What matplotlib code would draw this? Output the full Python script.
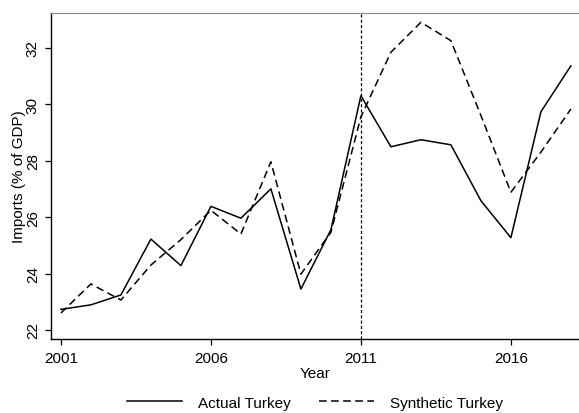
import matplotlib
matplotlib.use("Agg")
import matplotlib.pyplot as plt

plt.rcParams['font.family'] = ['Liberation Sans', 'DejaVu Sans']
plt.rcParams['lines.scale_dashes'] = False

years = list(range(2001, 2019))
actual = [22.73, 22.89, 23.24, 25.22, 24.28, 26.38, 25.96, 27.0, 23.45,
          25.55, 30.30, 28.49, 28.74, 28.56, 26.58, 25.27, 29.73, 31.36]
synthetic = [22.6, 23.63, 23.06, 24.3, 25.2, 26.24, 25.40, 27.96, 23.98,
             25.46, 29.55, 31.84, 32.9, 32.25, 29.6, 26.88, 28.3, 29.83]
treat_year = 2011
xticks = [2001, 2006, 2011, 2016]
yticks = [22, 24, 26, 28, 30, 32]

fig = plt.figure(figsize=(5.79, 4.14), dpi=100)
ax = fig.add_axes([51 / 579, 1 - 340 / 414, 528 / 579, 326 / 414])

ax.plot(years, actual, color='black', linewidth=1.1, label='Actual Turkey')
ax.plot(years, synthetic, color='black', linewidth=1.1, dashes=(5.5, 3.2),
        label='Synthetic Turkey')
ax.axvline(treat_year, color='black', linewidth=0.9, dashes=(2.2, 1.6))

ax.set_xlim(2000.67, 2018.27)
ax.set_ylim(21.68, 33.23)
ax.set_xticks(xticks)
ax.set_yticks(yticks)
ax.tick_params(direction='out', length=4.5, width=0.9, labelsize=11, colors='black')
ax.tick_params(axis='x', pad=4)
for lab in ax.get_yticklabels():
    lab.set_rotation(90)
    lab.set_va('center')

ax.spines['right'].set_visible(False)
ax.spines['top'].set_color('#888888')
ax.spines['left'].set_linewidth(1.0)
ax.spines['bottom'].set_linewidth(1.0)

ax.set_xlabel('Year', fontsize=11, labelpad=1)
ax.set_ylabel('Imports (% of GDP)', fontsize=11, labelpad=0)

fig.legend(loc='lower center', bbox_to_anchor=(315 / 579, -0.025), ncol=2,
           frameon=False, fontsize=11, handlelength=3.6, columnspacing=1.9,
           handletextpad=1.0)

fig.savefig('out.png', dpi=100)
